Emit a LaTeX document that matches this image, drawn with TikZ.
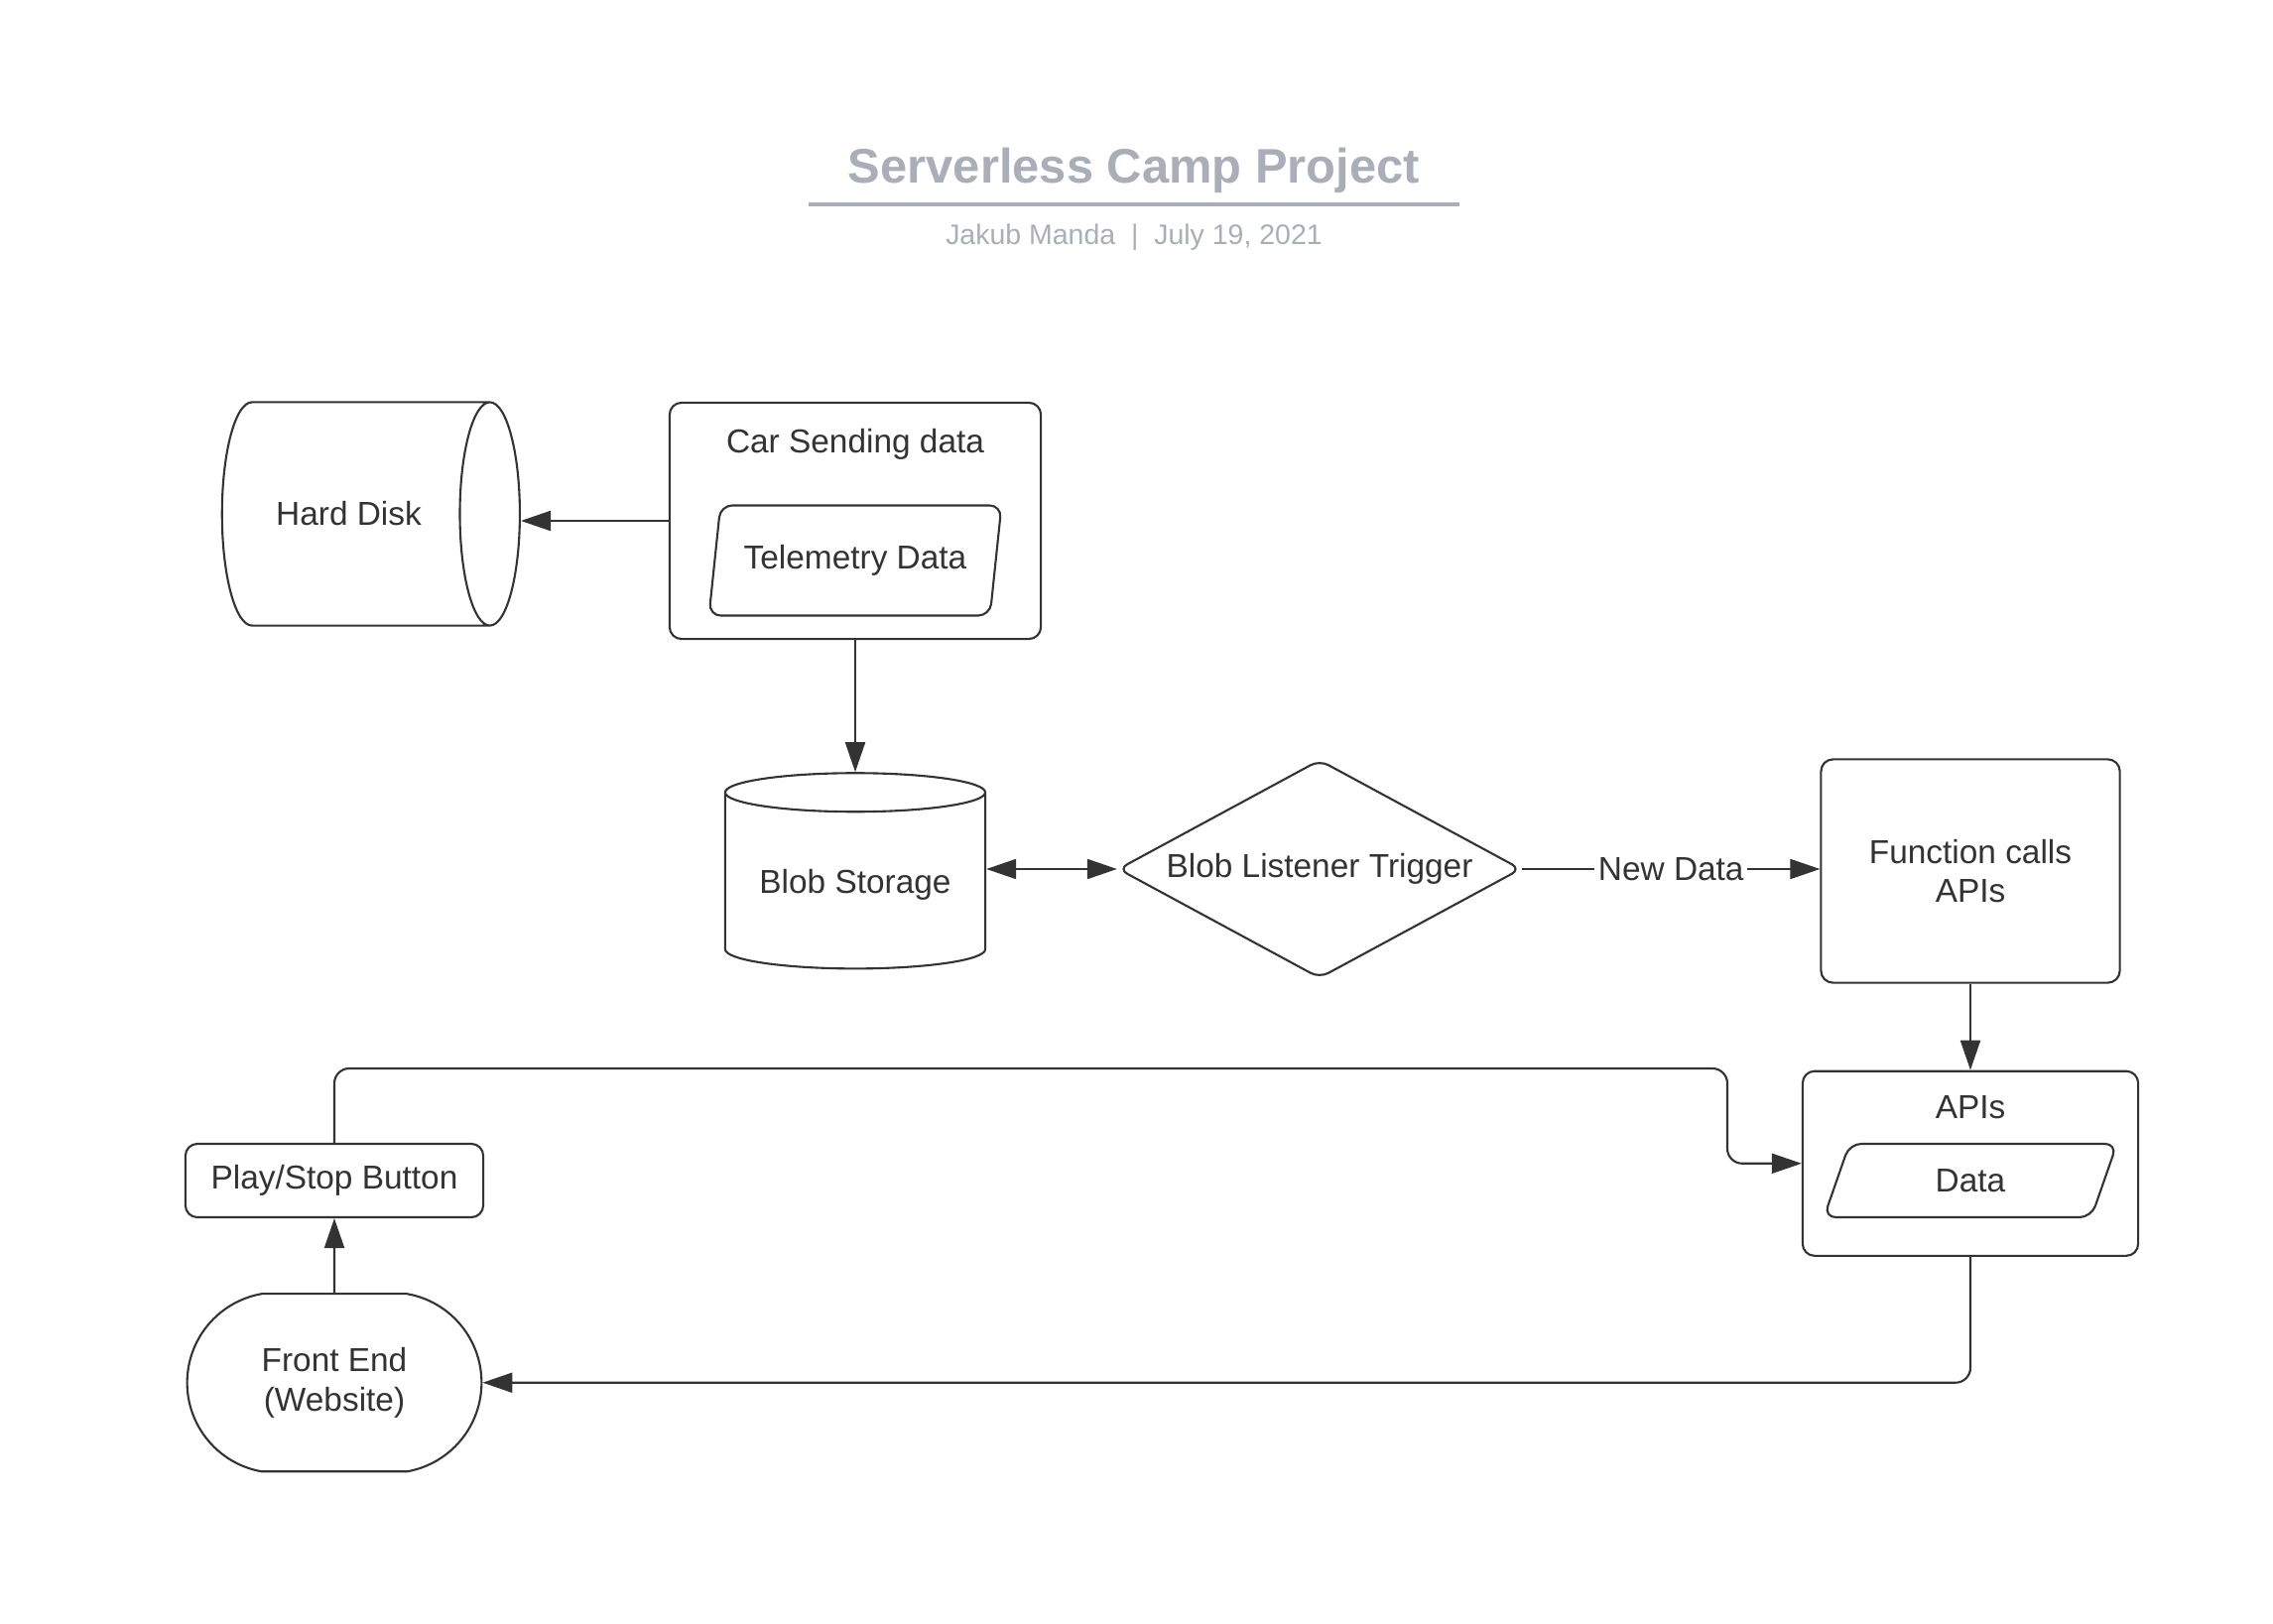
\documentclass[tikz,border=0pt]{standalone}
\usepackage{fontspec}
\setmainfont{Liberation Sans}
\usepackage{xcolor}
\definecolor{ink}{HTML}{333333}
\definecolor{title-gray}{HTML}{A9AEB8}
\usetikzlibrary{positioning}
\usetikzlibrary{shapes.geometric}
\usetikzlibrary{shapes.misc}
\usetikzlibrary{arrows.meta}
\newcommand{\nodefont}{\fontsize{9.5}{11.3}\selectfont}
\tikzset{box/.style = {draw=ink, line width=0.6pt, rounded corners=0.12cm, align=center, text=ink}}
\tikzset{io/.style = {draw=ink, line width=0.6pt, trapezium, trapezium left angle=79, trapezium right angle=101, trapezium stretches=true, rounded corners=0.12cm, align=center, text=ink}}
\tikzset{disk/.style = {draw=ink, line width=0.6pt, cylinder, align=center, text=ink}}
\tikzset{decision/.style = {draw=ink, line width=0.6pt, diamond, aspect=1.88, inner sep=0pt, rounded corners=0.1cm, align=center, text=ink}}
\tikzset{terminal/.style = {draw=ink, line width=0.6pt, rounded rectangle, rounded rectangle arc length=160, align=center, text=ink}}
\tikzset{arr/.style = {draw=ink, line width=0.6pt, -{Triangle[length=0.3cm, width=0.2cm]}}}
\tikzset{dblarr/.style = {draw=ink, line width=0.6pt, {Triangle[length=0.3cm, width=0.2cm]}-{Triangle[length=0.3cm, width=0.2cm]}}}

\begin{document}
\begin{tikzpicture}[x=0.01cm, y=-0.01cm, font=\nodefont]
\useasboundingbox[fill=white] (0,0) rectangle (2291,1637);

% title block
\node[font=\fontsize{13.9}{16}\selectfont\bfseries, text=title-gray] (title) at (1143,172) {Serverless Camp Project};
\draw[title-gray, line width=1.1pt] (815,206) -- (1471,206);
\node[font=\fontsize{8.1}{10}\selectfont, text=title-gray] (sub) at (1143,239) {Jakub Manda\ \ |\ \ July 19, 2021};

% car and storage
\node[box, minimum width=3.74cm, minimum height=2.38cm] (car) at (862,525) {};
\node[text=ink] (carlbl) at (862,448) {Car Sending data};
\node[io, minimum width=2.96cm, minimum height=1.11cm] (tele) at (862,565) {Telemetry Data};
\node[disk, anchor=east, minimum width=2.25cm, minimum height=3cm, aspect=1.26] (hdd) at (525,518) {Hard Disk};
\node[disk, shape border rotate=90, below=1.33cm of car, minimum width=2.62cm, minimum height=1.97cm, aspect=0.18] (blob) {Blob Storage};
\node[decision, minimum width=4.06cm, minimum height=2.2cm] (dia) at (1330,876) {Blob Listener Trigger};
\node[box, minimum width=3.01cm, minimum height=2.25cm] (fun) at (1986,878) {Function calls\\APIs};

% apis and front end
\node[box, below=0.87cm of fun, minimum width=3.38cm, minimum height=1.86cm] (apis) {};
\node[text=ink] (apislbl) at (1986,1116) {APIs};
\node[io, minimum width=2.96cm, minimum height=0.74cm, trapezium left angle=78, trapezium right angle=102] (data) at (1986,1190) {Data};
\node[box, minimum width=3cm, minimum height=0.74cm] (play) at (337,1190) {Play/Stop Button};
\node[terminal, below=0.75cm of play, minimum width=3.2cm, minimum height=1.79cm] (front) {Front End\\(Website)};

\draw[arr] (car.west) -- (car.west -| hdd.east);
\draw[arr] (car) -- (blob);
\draw[dblarr] (dia.west -| blob.east) -- (dia.west);
\draw[arr] (dia.east) -- node[fill=white, text=ink, inner sep=1pt] {New Data} (dia.east -| fun.west);
\draw[arr] (fun) -- (apis);
\coordinate (turn) at (1741,1077);
\draw[arr, rounded corners=0.15cm] (play.north) |- (turn) |- (apis.west);
\draw[arr, rounded corners=0.15cm] (apis.south) |- (front.east);
\draw[arr] (front) -- (play);

\end{tikzpicture}
\end{document}
